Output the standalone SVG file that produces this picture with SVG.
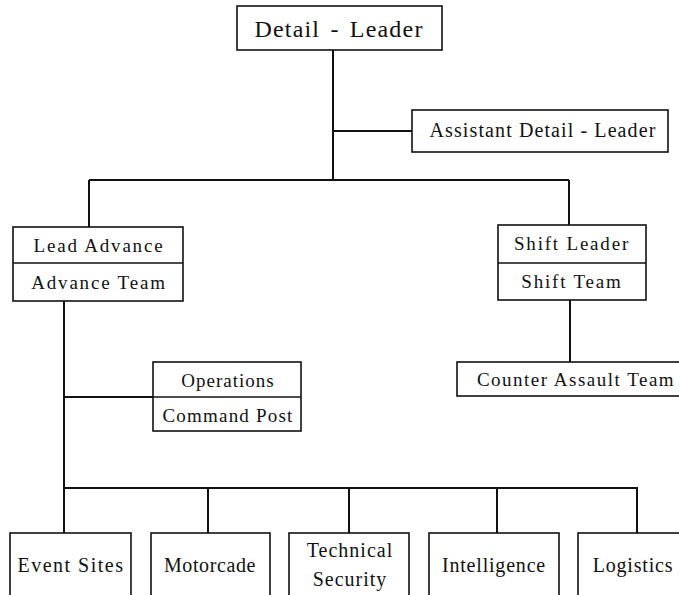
<svg xmlns="http://www.w3.org/2000/svg" width="679" height="595" viewBox="0 0 679 595">
<style>
.box{fill:#fff;stroke:#111;stroke-width:1.6}
.div{stroke:#111;stroke-width:1.6}
.con{stroke:#111;stroke-width:2;fill:none}
text{font-family:"Liberation Serif","Times New Roman",serif;fill:#111;text-anchor:middle}
.t{font-size:20px;letter-spacing:1px}
.m{font-size:19px;letter-spacing:1.8px}
</style>
<rect width="679" height="595" fill="#fff"/>
<g id="connectors">
<path class="con" d="M333 50V180M333 131H412M89 180H569M89 180V227M569 180V225M64 301V533M64 397H153M570 300V362M64 488H638M208 488V533M349 488V533M497 488V533M637 488V533"/>
</g>
<g id="detail-leader">
<rect class="box" x="237" y="6" width="205" height="44"/>
<text x="339" y="37" style="font-size:24px;letter-spacing:1.2px;word-spacing:3px">Detail - Leader</text>
</g>
<g id="assistant-detail-leader">
<rect class="box" x="412" y="110" width="256" height="42"/>
<text x="543" y="137" class="t" style="letter-spacing:1.1px">Assistant Detail - Leader</text>
</g>
<g id="lead-advance">
<rect class="box" x="13" y="227" width="170" height="74"/>
<line class="div" x1="13" y1="263" x2="183" y2="263"/>
<text x="99" y="252" class="m">Lead Advance</text>
<text x="99" y="289" class="m">Advance Team</text>
</g>
<g id="shift-leader">
<rect class="box" x="498" y="225" width="148" height="75"/>
<line class="div" x1="498" y1="263" x2="646" y2="263"/>
<text x="572" y="250" class="m">Shift Leader</text>
<text x="572" y="288" class="m">Shift Team</text>
</g>
<g id="counter-assault-team">
<rect class="box" x="457" y="362" width="240" height="34"/>
<text x="576" y="386" class="m" style="letter-spacing:1.5px">Counter Assault Team</text>
</g>
<g id="operations">
<rect class="box" x="153" y="362" width="148" height="69"/>
<line class="div" x1="153" y1="397" x2="301" y2="397"/>
<text x="228" y="387" class="m" style="letter-spacing:1px">Operations</text>
<text x="228" y="422" class="m" style="letter-spacing:1.2px">Command Post</text>
</g>
<g id="event-sites">
<rect class="box" x="10" y="533" width="121" height="70"/>
<text x="71" y="572" class="t" style="letter-spacing:1.5px">Event Sites</text>
</g>
<g id="motorcade">
<rect class="box" x="151" y="533" width="119" height="70"/>
<text x="210" y="572" class="t" style="letter-spacing:0.6px">Motorcade</text>
</g>
<g id="technical-security">
<rect class="box" x="289" y="533" width="120" height="70"/>
<text x="350" y="557" class="t">Technical</text>
<text x="350" y="586" class="t">Security</text>
</g>
<g id="intelligence">
<rect class="box" x="429" y="533" width="130" height="70"/>
<text x="494" y="572" class="t" style="letter-spacing:0.8px">Intelligence</text>
</g>
<g id="logistics">
<rect class="box" x="578" y="533" width="112" height="70"/>
<text x="633" y="572" class="t" style="letter-spacing:0.8px">Logistics</text>
</g>
</svg>
